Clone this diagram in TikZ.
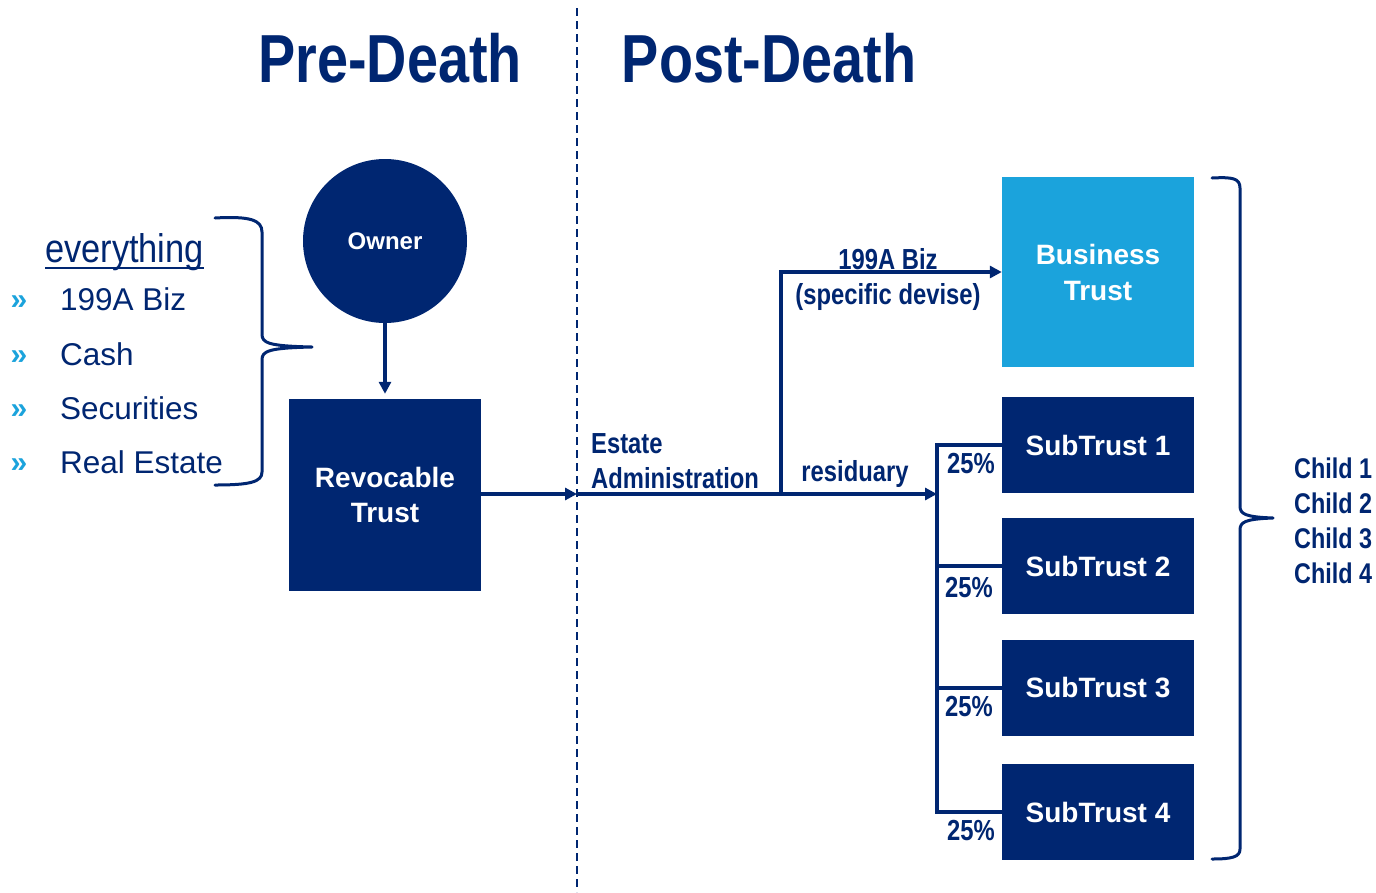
\documentclass[tikz,border=0pt]{standalone}
\usepackage{fontspec}
\setmainfont{Liberation Sans}
\newfontfamily\narrow[FakeStretch=0.82]{Liberation Sans}
\newfontfamily\semicond[FakeStretch=0.86]{Liberation Sans}
\usetikzlibrary{arrows.meta}
\definecolor{navy}{HTML}{002671}
\definecolor{sky}{HTML}{1BA3DC}
\tikzset{
  ln/.style={draw=navy, line width=3.6pt},
  arr/.style={ln, -{Triangle[length=12pt,width=12pt]}},
  darkbox/.style={fill=navy, text=white, inner sep=0pt, minimum width=192pt,
    align=center, font=\bfseries\fontsize{28}{35}\selectfont},
  title/.style={text=navy, anchor=base, inner sep=0pt, font=\narrow\bfseries\fontsize{68}{70}\selectfont},
  lab/.style={text=navy, inner sep=0pt, font=\narrow\bfseries\fontsize{29}{35}\selectfont},
  item/.style={text=navy, inner sep=0pt, anchor=base west, font=\fontsize{31.5}{35}\selectfont},
  bullet/.style={text=sky, inner sep=0pt, font=\bfseries\fontsize{30}{32}\selectfont},
  brace/.style={draw=navy, line width=3pt, line cap=round, line join=round}
}
\begin{document}
\begin{tikzpicture}[x=1pt, y=-1pt]
\useasboundingbox[fill=white] (0,0) rectangle (1376,892);

% divider between the two periods
\draw[navy, line width=2pt, dash pattern=on 8pt off 5pt] (577,8) -- (577,892);
\coordinate (div) at (577,494);

% headings
\node[title] (pre) at (390,82) {Pre-Death};
\node[title] (post) at (769,82) {Post-Death};

% assets list
\node[text=navy, inner sep=0pt, anchor=base west, font=\semicond\fontsize{40}{44}\selectfont] (every) at (45,262) {everything};
\draw[navy, line width=2pt] (every.base west) ++(0,6) -- ([yshift=-6pt]every.base east);
\node[item] (i1) at (60,310) {199A Biz};
\node[item] (i2) at (60,365) {Cash};
\node[item] (i3) at (60,419) {Securities};
\node[item] (i4) at (60,473) {Real Estate};
\node[bullet] (b1) at (19,303) {»};
\node[bullet] (b2) at (19,358) {»};
\node[bullet] (b3) at (19,412) {»};
\node[bullet] (b4) at (19,466) {»};

% left brace
\draw[brace] (215,218) .. controls (250,216) and (262,220) .. (262,232) -- (262,334)
  .. controls (262,343) and (268,346) .. (312,347)
  .. controls (268,348) and (262,351) .. (262,360) -- (262,472)
  .. controls (262,482) and (250,485) .. (215,485);

% owner and revocable trust
\node[circle, fill=navy, text=white, minimum size=164pt, inner sep=0pt,
  font=\bfseries\fontsize{24}{26}\selectfont] (owner) at (385,241) {Owner};
\node[darkbox, minimum height=192pt] (rev) at (385,495) {Revocable\\Trust};
\draw[arr, shorten >=5pt] (owner.south) -- (rev.north);

% trusts after death
\node[darkbox, fill=sky, minimum height=190pt, font=\bfseries\fontsize{28}{36}\selectfont] (bus) at (1098,272) {Business\\Trust};
\node[darkbox, minimum height=96pt] (s1) at (1098,445) {SubTrust 1};
\node[darkbox, minimum height=96pt] (s2) at (1098,566) {SubTrust 2};
\node[darkbox, minimum height=96pt] (s3) at (1098,688) {SubTrust 3};
\node[darkbox, minimum height=96pt] (s4) at (1098,812) {SubTrust 4};

% flow
\coordinate (split) at (781,494);
\coordinate (rake) at (937,494);
\draw[arr] (rev.east |- div) -- (div);
\draw[arr] (div) -- (rake);
\draw[arr] (split) |- (bus.west);
\draw[ln] (s1.west) -- (s1.west -| rake) |- (s4.west);
\draw[ln] (s2.west) -- (s2.west -| rake);
\draw[ln] (s3.west) -- (s3.west -| rake);

% labels on the flow
\node[lab, anchor=base] (l199) at (888,269) {199A Biz};
\node[lab, anchor=base] (ldev) at (888,304) {(specific devise)};
\node[lab, anchor=base west] (lest) at (591,453) {Estate};
\node[lab, anchor=base west] (ladm) at (591,488) {Administration};
\node[lab, anchor=base] (lres) at (855,481) {residuary};
\node[lab, anchor=base] (p1) at (971,473) {25\%};
\node[lab, anchor=base] (p2) at (969,597) {25\%};
\node[lab, anchor=base] (p3) at (969,716) {25\%};
\node[lab, anchor=base] (p4) at (971,840) {25\%};

% right brace and beneficiaries
\draw[brace] (1212,178) .. controls (1232,177) and (1240,178) .. (1240,188) -- (1240,506)
  .. controls (1240,514) and (1245,517) .. (1273,518)
  .. controls (1245,519) and (1240,522) .. (1240,530) -- (1240,849)
  .. controls (1240,857) and (1232,859) .. (1212,859);
\node[lab, anchor=base west, font=\narrow\bfseries\fontsize{28.5}{35}\selectfont] (c1) at (1294,478) {Child 1};
\node[lab, anchor=base west, font=\narrow\bfseries\fontsize{28.5}{35}\selectfont] (c2) at (1294,513) {Child 2};
\node[lab, anchor=base west, font=\narrow\bfseries\fontsize{28.5}{35}\selectfont] (c3) at (1294,548) {Child 3};
\node[lab, anchor=base west, font=\narrow\bfseries\fontsize{28.5}{35}\selectfont] (c4) at (1294,583) {Child 4};
\end{tikzpicture}
\end{document}
